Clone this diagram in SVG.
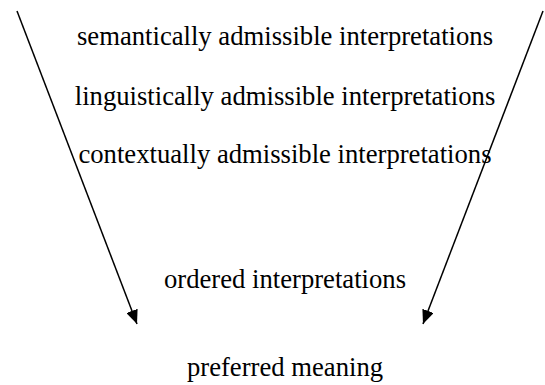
<svg xmlns="http://www.w3.org/2000/svg" width="545" height="385" viewBox="0 0 545 385">
<defs>
<marker id="arr" markerWidth="14" markerHeight="12" refX="14" refY="6" orient="auto" markerUnits="userSpaceOnUse">
<path d="M0,0 L14,6 L0,12 Z" fill="#000"/>
</marker>
<style>
text { font-family: "Liberation Serif", "Times New Roman", serif; font-size: 26.67px; fill: #000; text-anchor: middle; }
.conn line { stroke: #000; stroke-width: 1.5; fill: none; }
</style>
</defs>
<rect width="545" height="385" fill="#fff"/>
<g id="connectors" class="conn">
<line x1="17" y1="11" x2="137" y2="324" marker-end="url(#arr)"/>
<line x1="543" y1="11" x2="423" y2="324" marker-end="url(#arr)"/>
</g>
<g id="semantic"><text x="285" y="45">semantically admissible interpretations</text></g>
<g id="linguistic"><text x="285" y="105">linguistically admissible interpretations</text></g>
<g id="contextual"><text x="285" y="163">contextually admissible interpretations</text></g>
<g id="ordered"><text x="285" y="288">ordered interpretations</text></g>
<g id="preferred"><text x="285" y="376">preferred meaning</text></g>
</svg>
